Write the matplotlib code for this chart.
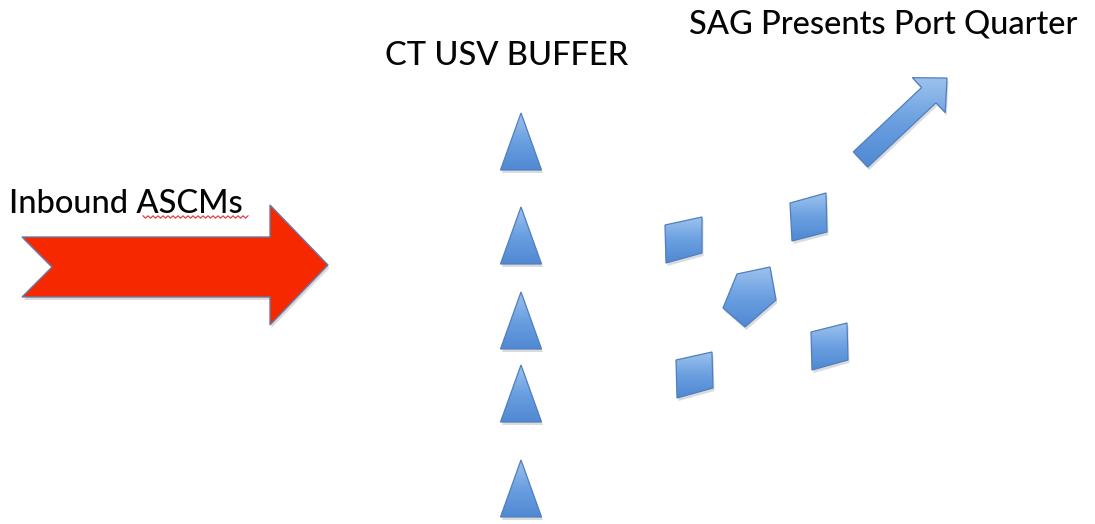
import numpy as np
import matplotlib
matplotlib.use("Agg")
import matplotlib.pyplot as plt
from matplotlib.patches import Polygon
from matplotlib.colors import LinearSegmentedColormap

W, H = 1095, 524

# ---- text labels ----
labels = ["Inbound ASCMs", "CT USV BUFFER", "SAG Presents Port Quarter"]
label_x = [9, 507, 689]
label_y = [213, 65, 34]
label_ha = ["left", "center", "left"]

# ---- inbound ASCM arrow (notched, red) ----
red_arrow_x = [22, 270, 270, 328, 270, 270, 22, 52]
red_arrow_y = [237, 237, 205, 265, 325, 297, 297, 267]

# ---- USV buffer triangles ----
usv_x = 521
usv_apex_y = [113, 207, 292, 365, 460]
usv_height = 57
usv_width = 41

# ---- SAG ships (parallelograms) ----
ship_x = [[665, 702, 702, 666], [790, 826, 827, 792],
          [676, 712, 713, 677], [811, 847, 848, 812]]
ship_y = [[225, 217, 253, 263], [203, 193, 232, 241],
          [360, 352, 388, 398], [332, 323, 360, 370]]

# ---- high value unit (pentagon) ----
hvu_x = [737, 770, 776, 745, 723]
hvu_y = [274, 267, 300, 327, 308]

# ---- SAG movement arrow ----
sag_tail = (860.5, 159.5)
sag_tip = (947, 78)
sag_shaft_half = 10.5
sag_head_half = 24
sag_head_len = 25

blue_cmap = LinearSegmentedColormap.from_list("b", ["#9cc2ee", "#6a9fe0", "#5089d3"])

fig = plt.figure(figsize=(W / 100, H / 100), dpi=100)
ax = fig.add_axes([0, 0, 1, 1])
ax.set_xlim(0, W)
ax.set_ylim(H, 0)
ax.axis("off")

grad = np.linspace(0, 1, 64).reshape(-1, 1)


def blue_shape(verts, shadow=True):
    verts = np.asarray(verts, dtype=float)
    if shadow:
        sh = Polygon(verts + np.array([1.5, 3.0]), closed=True, facecolor="#9a9a9a",
                     edgecolor="none", alpha=0.35, zorder=1)
        ax.add_patch(sh)
    p = Polygon(verts, closed=True, facecolor="none", edgecolor="#4f7fbf",
                linewidth=0.9, zorder=3)
    ax.add_patch(p)
    x0, y0 = verts.min(axis=0)
    x1, y1 = verts.max(axis=0)
    im = ax.imshow(grad, cmap=blue_cmap, extent=(x0, x1, y1, y0), aspect="auto",
                   zorder=2, interpolation="bilinear")
    im.set_clip_path(Polygon(verts, closed=True, transform=ax.transData))
    return p


# red arrow
ax.add_patch(Polygon(np.column_stack([np.array(red_arrow_x) + 1.5, np.array(red_arrow_y) + 3]),
                     closed=True, facecolor="#9a9a9a", edgecolor="none", alpha=0.35, zorder=1))
ax.add_patch(Polygon(np.column_stack([red_arrow_x, red_arrow_y]), closed=True,
                     facecolor="#f52800", edgecolor="#6a7aa8", linewidth=1.0, zorder=3))

# triangles
for ay in usv_apex_y:
    tri = [(usv_x, ay), (usv_x + usv_width / 2, ay + usv_height),
           (usv_x - usv_width / 2, ay + usv_height)]
    blue_shape(tri)

# ships
for xs, ys in zip(ship_x, ship_y):
    blue_shape(list(zip(xs, ys)))

# pentagon
blue_shape(list(zip(hvu_x, hvu_y)))

# SAG arrow
tail = np.array(sag_tail)
tip = np.array(sag_tip)
u = (tip - tail) / np.linalg.norm(tip - tail)
n = np.array([-u[1], u[0]])
neck = tip - u * sag_head_len
arrow = [tail + n * sag_shaft_half, neck + n * sag_shaft_half, neck + n * sag_head_half,
         tip, neck - n * sag_head_half, neck - n * sag_shaft_half, tail - n * sag_shaft_half]
blue_shape(arrow)

# labels
for t, x, y, ha in zip(labels, label_x, label_y, label_ha):
    ax.text(x, y, t, ha=ha, va="baseline", fontsize=23.5, family=["Lato", "DejaVu Sans"],
            fontweight="medium", color="#050505", zorder=5)

# spell-check squiggle under "ASCMs"
sq_x = np.arange(143, 249, 2.5)
sq_y = 217 + np.where(np.arange(len(sq_x)) % 2 == 0, -1.2, 1.2)
ax.plot(sq_x, sq_y, color="#e03030", linewidth=0.8, zorder=5)

fig.savefig("out.png", dpi=100)
